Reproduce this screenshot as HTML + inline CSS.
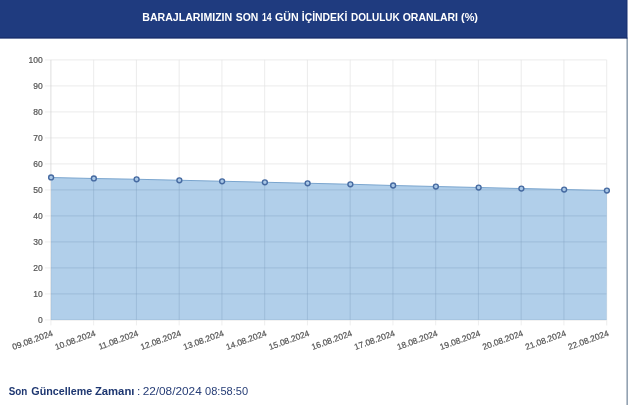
<!DOCTYPE html>
<html lang="tr">
<head>
<meta charset="utf-8">
<title>Barajlarımızın Son 14 Gün İçindeki Doluluk Oranları (%)</title>
<style>
html,body{margin:0;padding:0;background:#fff;}
body{width:640px;height:405px;overflow:hidden;font-family:"Liberation Sans",sans-serif;}
svg{display:block;}
text{font-family:"Liberation Sans",sans-serif;}
.tick{font-size:8.5px;fill:#555;stroke:#555;stroke-width:0.2px;}
.title{font-size:11.2px;font-weight:bold;fill:#fff;}
.foot{font-size:11.5px;fill:#1d3670;}
.foot .b{font-weight:bold;}
.foot .r{font-size:11.8px;fill:#263d76;}
</style>
</head>
<body>
<svg width="640" height="405" viewBox="0 0 640 405">
<rect x="0" y="0" width="640" height="405" fill="#fff"/>
<rect x="626" y="38" width="0.7" height="367" fill="#c3cad5"/>
<rect x="626.7" y="38" width="1.2" height="367" fill="#8898aa"/>
<rect x="0" y="0" width="627.3" height="38.4" fill="#1f3b7f"/>
<rect x="0" y="37.3" width="627.3" height="1.1" fill="#182d68"/>
<rect x="626.4" y="0" width="0.9" height="38.4" fill="#1a3170"/>

<g class="title">
<text x="142.25" y="21.25" textLength="89.96" lengthAdjust="spacingAndGlyphs">BARAJLARIMIZIN</text>
<text x="235.75" y="21.25" textLength="22.50" lengthAdjust="spacingAndGlyphs">SON</text>
<text x="262.02" y="21.25" textLength="9.68" lengthAdjust="spacingAndGlyphs">14</text>
<text x="275.05" y="21.25" textLength="23.65" lengthAdjust="spacingAndGlyphs">GÜN</text>
<text x="301.74" y="21.25" textLength="45.71" lengthAdjust="spacingAndGlyphs">İÇİNDEKİ</text>
<text x="350.95" y="21.25" textLength="48.85" lengthAdjust="spacingAndGlyphs">DOLULUK</text>
<text x="402.70" y="21.25" textLength="55.30" lengthAdjust="spacingAndGlyphs">ORANLARI</text>
<text x="461.00" y="21.25" textLength="17.00" lengthAdjust="spacingAndGlyphs">(%)</text>
</g>
<g stroke="#e4e4e4" stroke-width="0.7">
<line x1="50.90" y1="59.90" x2="606.70" y2="59.90"/>
<line x1="44.90" y1="59.90" x2="50.90" y2="59.90" stroke="#e6e6e6"/>
<line x1="50.90" y1="85.90" x2="606.70" y2="85.90"/>
<line x1="44.90" y1="85.90" x2="50.90" y2="85.90" stroke="#e6e6e6"/>
<line x1="50.90" y1="111.90" x2="606.70" y2="111.90"/>
<line x1="44.90" y1="111.90" x2="50.90" y2="111.90" stroke="#e6e6e6"/>
<line x1="50.90" y1="137.90" x2="606.70" y2="137.90"/>
<line x1="44.90" y1="137.90" x2="50.90" y2="137.90" stroke="#e6e6e6"/>
<line x1="50.90" y1="163.90" x2="606.70" y2="163.90"/>
<line x1="44.90" y1="163.90" x2="50.90" y2="163.90" stroke="#e6e6e6"/>
<line x1="50.90" y1="189.90" x2="606.70" y2="189.90"/>
<line x1="44.90" y1="189.90" x2="50.90" y2="189.90" stroke="#e6e6e6"/>
<line x1="50.90" y1="215.90" x2="606.70" y2="215.90"/>
<line x1="44.90" y1="215.90" x2="50.90" y2="215.90" stroke="#e6e6e6"/>
<line x1="50.90" y1="241.90" x2="606.70" y2="241.90"/>
<line x1="44.90" y1="241.90" x2="50.90" y2="241.90" stroke="#e6e6e6"/>
<line x1="50.90" y1="267.90" x2="606.70" y2="267.90"/>
<line x1="44.90" y1="267.90" x2="50.90" y2="267.90" stroke="#e6e6e6"/>
<line x1="50.90" y1="293.90" x2="606.70" y2="293.90"/>
<line x1="44.90" y1="293.90" x2="50.90" y2="293.90" stroke="#e6e6e6"/>
<line x1="50.90" y1="319.90" x2="606.70" y2="319.90" stroke="#d0d0d0"/>
<line x1="44.90" y1="319.90" x2="50.90" y2="319.90" stroke="#e6e6e6"/>
<line x1="50.90" y1="59.90" x2="50.90" y2="319.90" stroke="#d0d0d0"/>
<line x1="50.90" y1="319.90" x2="50.90" y2="325.40" stroke="#e6e6e6"/>
<line x1="93.65" y1="59.90" x2="93.65" y2="319.90"/>
<line x1="93.65" y1="319.90" x2="93.65" y2="325.40" stroke="#e6e6e6"/>
<line x1="136.41" y1="59.90" x2="136.41" y2="319.90"/>
<line x1="136.41" y1="319.90" x2="136.41" y2="325.40" stroke="#e6e6e6"/>
<line x1="179.16" y1="59.90" x2="179.16" y2="319.90"/>
<line x1="179.16" y1="319.90" x2="179.16" y2="325.40" stroke="#e6e6e6"/>
<line x1="221.92" y1="59.90" x2="221.92" y2="319.90"/>
<line x1="221.92" y1="319.90" x2="221.92" y2="325.40" stroke="#e6e6e6"/>
<line x1="264.67" y1="59.90" x2="264.67" y2="319.90"/>
<line x1="264.67" y1="319.90" x2="264.67" y2="325.40" stroke="#e6e6e6"/>
<line x1="307.42" y1="59.90" x2="307.42" y2="319.90"/>
<line x1="307.42" y1="319.90" x2="307.42" y2="325.40" stroke="#e6e6e6"/>
<line x1="350.18" y1="59.90" x2="350.18" y2="319.90"/>
<line x1="350.18" y1="319.90" x2="350.18" y2="325.40" stroke="#e6e6e6"/>
<line x1="392.93" y1="59.90" x2="392.93" y2="319.90"/>
<line x1="392.93" y1="319.90" x2="392.93" y2="325.40" stroke="#e6e6e6"/>
<line x1="435.68" y1="59.90" x2="435.68" y2="319.90"/>
<line x1="435.68" y1="319.90" x2="435.68" y2="325.40" stroke="#e6e6e6"/>
<line x1="478.44" y1="59.90" x2="478.44" y2="319.90"/>
<line x1="478.44" y1="319.90" x2="478.44" y2="325.40" stroke="#e6e6e6"/>
<line x1="521.19" y1="59.90" x2="521.19" y2="319.90"/>
<line x1="521.19" y1="319.90" x2="521.19" y2="325.40" stroke="#e6e6e6"/>
<line x1="563.95" y1="59.90" x2="563.95" y2="319.90"/>
<line x1="563.95" y1="319.90" x2="563.95" y2="325.40" stroke="#e6e6e6"/>
<line x1="606.70" y1="59.90" x2="606.70" y2="319.90"/>
<line x1="606.70" y1="319.90" x2="606.70" y2="325.40" stroke="#e6e6e6"/>
</g>
<polygon points="50.90,319.90 51.10,177.40 93.85,178.40 136.61,179.30 179.36,180.30 222.12,181.30 264.87,182.30 307.62,183.30 350.38,184.30 393.13,185.50 435.88,186.60 478.64,187.60 521.39,188.60 564.15,189.60 606.90,190.60 606.70,319.90" fill="#6ea6d8" fill-opacity="0.54"/>
<clipPath id="fillclip"><polygon points="50.90,319.90 51.10,177.40 93.85,178.40 136.61,179.30 179.36,180.30 222.12,181.30 264.87,182.30 307.62,183.30 350.38,184.30 393.13,185.50 435.88,186.60 478.64,187.60 521.39,188.60 564.15,189.60 606.90,190.60 606.70,319.90"/></clipPath>
<g clip-path="url(#fillclip)" stroke="#27507f" stroke-opacity="0.10" stroke-width="0.8">
<line x1="50.90" y1="189.90" x2="606.70" y2="189.90"/>
<line x1="50.90" y1="215.90" x2="606.70" y2="215.90"/>
<line x1="50.90" y1="241.90" x2="606.70" y2="241.90"/>
<line x1="50.90" y1="267.90" x2="606.70" y2="267.90"/>
<line x1="50.90" y1="293.90" x2="606.70" y2="293.90"/>
<line x1="93.65" y1="170.00" x2="93.65" y2="319.90"/>
<line x1="136.41" y1="170.00" x2="136.41" y2="319.90"/>
<line x1="179.16" y1="170.00" x2="179.16" y2="319.90"/>
<line x1="221.92" y1="170.00" x2="221.92" y2="319.90"/>
<line x1="264.67" y1="170.00" x2="264.67" y2="319.90"/>
<line x1="307.42" y1="170.00" x2="307.42" y2="319.90"/>
<line x1="350.18" y1="170.00" x2="350.18" y2="319.90"/>
<line x1="392.93" y1="170.00" x2="392.93" y2="319.90"/>
<line x1="435.68" y1="170.00" x2="435.68" y2="319.90"/>
<line x1="478.44" y1="170.00" x2="478.44" y2="319.90"/>
<line x1="521.19" y1="170.00" x2="521.19" y2="319.90"/>
<line x1="563.95" y1="170.00" x2="563.95" y2="319.90"/>
</g>
<polyline points="51.10,177.40 93.85,178.40 136.61,179.30 179.36,180.30 222.12,181.30 264.87,182.30 307.62,183.30 350.38,184.30 393.13,185.50 435.88,186.60 478.64,187.60 521.39,188.60 564.15,189.60 606.90,190.60" fill="none" stroke="#7aa5ce" stroke-width="1.05"/>
<circle cx="51.10" cy="177.40" r="2.45" fill="#a9c7e6" stroke="#466aa1" stroke-width="1.4"/>
<circle cx="93.85" cy="178.40" r="2.45" fill="#a9c7e6" stroke="#466aa1" stroke-width="1.4"/>
<circle cx="136.61" cy="179.30" r="2.45" fill="#a9c7e6" stroke="#466aa1" stroke-width="1.4"/>
<circle cx="179.36" cy="180.30" r="2.45" fill="#a9c7e6" stroke="#466aa1" stroke-width="1.4"/>
<circle cx="222.12" cy="181.30" r="2.45" fill="#a9c7e6" stroke="#466aa1" stroke-width="1.4"/>
<circle cx="264.87" cy="182.30" r="2.45" fill="#a9c7e6" stroke="#466aa1" stroke-width="1.4"/>
<circle cx="307.62" cy="183.30" r="2.45" fill="#a9c7e6" stroke="#466aa1" stroke-width="1.4"/>
<circle cx="350.38" cy="184.30" r="2.45" fill="#a9c7e6" stroke="#466aa1" stroke-width="1.4"/>
<circle cx="393.13" cy="185.50" r="2.45" fill="#a9c7e6" stroke="#466aa1" stroke-width="1.4"/>
<circle cx="435.88" cy="186.60" r="2.45" fill="#a9c7e6" stroke="#466aa1" stroke-width="1.4"/>
<circle cx="478.64" cy="187.60" r="2.45" fill="#a9c7e6" stroke="#466aa1" stroke-width="1.4"/>
<circle cx="521.39" cy="188.60" r="2.45" fill="#a9c7e6" stroke="#466aa1" stroke-width="1.4"/>
<circle cx="564.15" cy="189.60" r="2.45" fill="#a9c7e6" stroke="#466aa1" stroke-width="1.4"/>
<circle cx="606.90" cy="190.60" r="2.45" fill="#a9c7e6" stroke="#466aa1" stroke-width="1.4"/>
<g class="tick" text-anchor="end">
<text x="42.7" y="63.20">100</text>
<text x="42.7" y="89.20">90</text>
<text x="42.7" y="115.20">80</text>
<text x="42.7" y="141.20">70</text>
<text x="42.7" y="167.20">60</text>
<text x="42.7" y="193.20">50</text>
<text x="42.7" y="219.20">40</text>
<text x="42.7" y="245.20">30</text>
<text x="42.7" y="271.20">20</text>
<text x="42.7" y="297.20">10</text>
<text x="42.7" y="323.20">0</text>
</g>
<g class="tick" text-anchor="end">
<text transform="translate(52.50,332.70) rotate(-20)" x="0" y="3">09.08.2024</text>
<text transform="translate(95.25,332.70) rotate(-20)" x="0" y="3">10.08.2024</text>
<text transform="translate(138.01,332.70) rotate(-20)" x="0" y="3">11.08.2024</text>
<text transform="translate(180.76,332.70) rotate(-20)" x="0" y="3">12.08.2024</text>
<text transform="translate(223.52,332.70) rotate(-20)" x="0" y="3">13.08.2024</text>
<text transform="translate(266.27,332.70) rotate(-20)" x="0" y="3">14.08.2024</text>
<text transform="translate(309.02,332.70) rotate(-20)" x="0" y="3">15.08.2024</text>
<text transform="translate(351.78,332.70) rotate(-20)" x="0" y="3">16.08.2024</text>
<text transform="translate(394.53,332.70) rotate(-20)" x="0" y="3">17.08.2024</text>
<text transform="translate(437.28,332.70) rotate(-20)" x="0" y="3">18.08.2024</text>
<text transform="translate(480.04,332.70) rotate(-20)" x="0" y="3">19.08.2024</text>
<text transform="translate(522.79,332.70) rotate(-20)" x="0" y="3">20.08.2024</text>
<text transform="translate(565.55,332.70) rotate(-20)" x="0" y="3">21.08.2024</text>
<text transform="translate(608.30,332.70) rotate(-20)" x="0" y="3">22.08.2024</text>
</g>
<g class="foot">
<text class="b" x="8.75" y="395.25" textLength="18.59" lengthAdjust="spacingAndGlyphs">Son</text>
<text class="b" x="31.35" y="395.25" textLength="60.80" lengthAdjust="spacingAndGlyphs">Güncelleme</text>
<text class="b" x="94.90" y="395.25" textLength="39.56" lengthAdjust="spacingAndGlyphs">Zamanı</text>
<text class="r" x="136.95" y="395.25">:</text>
<text class="r" x="142.65" y="395.25" textLength="59.10" lengthAdjust="spacingAndGlyphs">22/08/2024</text>
<text class="r" x="205.00" y="395.25" textLength="43.10" lengthAdjust="spacingAndGlyphs">08:58:50</text>
</g>
</svg>
</body>
</html>
